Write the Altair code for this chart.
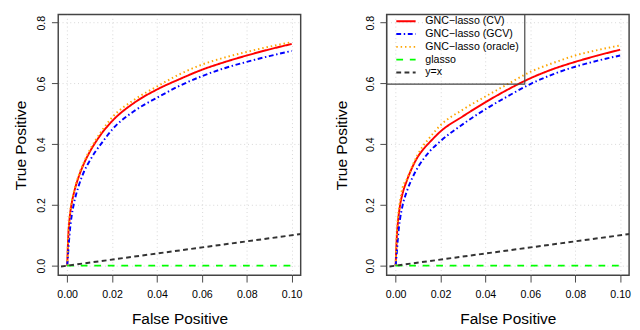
import altair as alt
import pandas as pd

# ---- data ----
fp = [0, 0.0005, 0.001, 0.002, 0.003, 0.005, 0.0075, 0.01, 0.0125, 0.015,
      0.02, 0.03, 0.04, 0.05, 0.06, 0.07, 0.08, 0.09, 0.1]

cv_left = [0, 0.10, 0.15, 0.205, 0.24, 0.29, 0.337, 0.374, 0.405, 0.432,
           0.476, 0.537, 0.580, 0.614, 0.645, 0.670, 0.692, 0.712, 0.730]
gcv_left = [0, 0.05, 0.10, 0.165, 0.205, 0.26, 0.31, 0.345, 0.375, 0.400,
            0.448, 0.510, 0.553, 0.592, 0.624, 0.650, 0.671, 0.690, 0.707]
oracle_left = [0, 0.10, 0.155, 0.21, 0.245, 0.295, 0.342, 0.38, 0.412, 0.44,
               0.488, 0.547, 0.590, 0.630, 0.662, 0.685, 0.704, 0.721, 0.736]

cv_right = [0, 0.09, 0.14, 0.20, 0.235, 0.28, 0.325, 0.36, 0.385, 0.405,
            0.442, 0.492, 0.538, 0.580, 0.617, 0.647, 0.671, 0.692, 0.711]
gcv_right = [0, 0.04, 0.09, 0.155, 0.195, 0.245, 0.29, 0.325, 0.352, 0.375,
             0.41, 0.466, 0.515, 0.558, 0.598, 0.630, 0.655, 0.675, 0.692]
oracle_right = [0, 0.10, 0.155, 0.215, 0.255, 0.285, 0.33, 0.368, 0.397, 0.42,
                0.4625, 0.514, 0.557, 0.598, 0.638, 0.667, 0.692, 0.710, 0.725]

glasso_x = [0, 0.1]
glasso_y = [0, 0]
yx_x = [-0.01, 0.11]

names = ["GNC\u2212lasso (CV)", "GNC\u2212lasso (GCV)", "GNC\u2212lasso (oracle)", "glasso", "y=x"]
colors = ["#ff0000", "#0000ff", "#ffa500", "#00ff00", "#333333"]
dashes = [[1, 0], [5, 2.7, 1.5, 2.7], [1.5, 3], [7, 7], [5, 3.5]]
widths = [2, 2, 2, 2.5, 1.1]

x_ticks = [0, 0.02, 0.04, 0.06, 0.08, 0.1]
y_ticks = [0, 0.2, 0.4, 0.6, 0.8]

FONT = "Liberation Sans"
W, H = 251, 270


def panel_df(cv, gcv, orc):
    rows = []
    for s, ys in zip(names[:3], [cv, gcv, orc]):
        for i, (x, y) in enumerate(zip(fp, ys)):
            rows.append(dict(series=s, x=x, y=y, o=i))
    for i, (x, y) in enumerate(zip(glasso_x, glasso_y)):
        rows.append(dict(series=names[3], x=x, y=y, o=i))
    for i, x in enumerate(yx_x):
        rows.append(dict(series=names[4], x=x, y=x, o=i))
    return pd.DataFrame(rows)


color = alt.Color("series:N", scale=alt.Scale(domain=names, range=colors), legend=None)
dash = alt.StrokeDash("series:N", scale=alt.Scale(domain=names, range=dashes), legend=None)
sw = alt.StrokeWidth("series:N", scale=alt.Scale(domain=names, range=widths), legend=None)


def lines(df, title_x):
    x = alt.X("x:Q", scale=alt.Scale(domain=[-0.004, 0.104], nice=False, zero=False),
              axis=alt.Axis(values=x_ticks, format=".2f", title="False Positive",
                            labelPadding=7, titlePadding=12))
    y = alt.Y("y:Q", scale=alt.Scale(domain=[-0.0318, 0.827], nice=False, zero=False),
              axis=alt.Axis(values=y_ticks, format=".1f", title="True Positive",
                            labelAngle=270, labelAlign="center", labelBaseline="bottom",
                            labelPadding=5, minExtent=0, maxExtent=200,
                            titleX=title_x, titleY=H / 2, titleAngle=270,
                            titleAlign="center", titleBaseline="bottom"))
    layers = []
    for n in names:
        layers.append(
            alt.Chart(df).transform_filter(alt.datum.series == n)
            .mark_line(clip=True, strokeCap="butt", interpolate="monotone")
            .encode(x=x, y=y, color=color, strokeDash=dash, strokeWidth=sw, order="o:Q")
        )
    return alt.layer(*layers)


def legend_layer():
    ldf = pd.DataFrame({"series": names})
    ly = alt.Y("series:N", scale=alt.Scale(domain=names, range=[7, 60], type="point",
                                           padding=0), axis=None)
    rules = alt.Chart(ldf).mark_rule(strokeCap="butt").encode(
        x=alt.value(10), x2=alt.value(30), y=ly,
        color=color, strokeDash=dash, strokeWidth=sw)
    texts = alt.Chart(ldf).mark_text(align="left", baseline="middle", font=FONT,
                                     fontSize=11, color="black").encode(
        x=alt.value(40), y=ly, text="series:N")
    box = alt.Chart(pd.DataFrame({"b": [0]})).mark_rect(
        fillOpacity=0, stroke="#444", strokeWidth=1.2).encode(
        x=alt.value(0), x2=alt.value(143), y=alt.value(0), y2=alt.value(72))
    return alt.layer(box, rules, texts)


left = lines(panel_df(cv_left, gcv_left, oracle_left), -30.5).properties(width=W, height=H)
right = (
    alt.layer(lines(panel_df(cv_right, gcv_right, oracle_right), -38.5), legend_layer())
    .resolve_scale(y="independent")
    .properties(width=W, height=H)
)

chart = (
    alt.hconcat(left, right, spacing=30)
    .properties(padding={"left": 4, "top": -1, "right": 0, "bottom": 0}, background="white")
    .configure_view(stroke="#444", strokeWidth=1.5)
    .configure_axis(
        domain=False, tickSize=7, tickColor="#444", tickWidth=1,
        labelFont=FONT, labelFontSize=11, labelColor="black",
        titleFont=FONT, titleFontSize=16, titleFontWeight="normal", titleColor="black",
        grid=True, gridColor="#d6d6d6", gridDash=[1, 3], gridWidth=1,
    )
)

chart.save("out.html", embed_options={"renderer": "svg", "actions": False})
